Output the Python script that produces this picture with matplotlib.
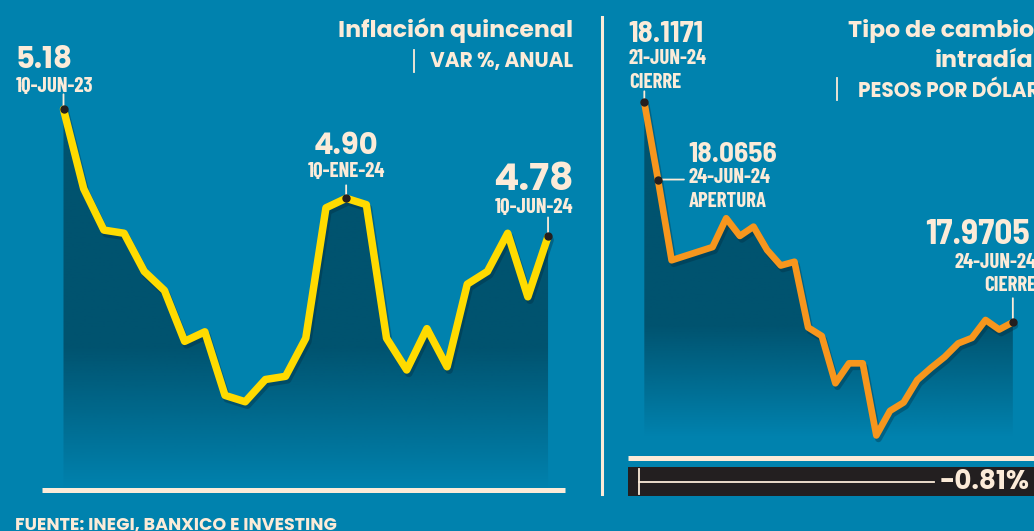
import numpy as np
import matplotlib.pyplot as plt
import matplotlib.patheffects as pe
from matplotlib.colors import to_rgb
from matplotlib.lines import Line2D

#%% Data

# Inflacion quincenal, var % anual
infl_dates = ['1Q-JUN-23', '2Q-JUN-23', '1Q-JUL-23', '2Q-JUL-23', '1Q-AGO-23',
              '2Q-AGO-23', '1Q-SEP-23', '2Q-SEP-23', '1Q-OCT-23', '2Q-OCT-23',
              '1Q-NOV-23', '2Q-NOV-23', '1Q-DIC-23', '2Q-DIC-23', '1Q-ENE-24',
              '2Q-ENE-24', '1Q-FEB-24', '2Q-FEB-24', '1Q-MAR-24', '2Q-MAR-24',
              '1Q-ABR-24', '2Q-ABR-24', '1Q-MAY-24', '2Q-MAY-24', '1Q-JUN-24']
infl_values = [5.18, 4.93, 4.80, 4.79, 4.67, 4.61, 4.45, 4.48, 4.28, 4.26,
               4.33, 4.34, 4.46, 4.87, 4.90, 4.88, 4.46, 4.36, 4.49, 4.37,
               4.63, 4.67, 4.79, 4.59, 4.78]

# Tipo de cambio intradia, pesos por dolar (sample number along the session)
fx_steps = [0, 1, 2, 5, 6, 7, 8, 9, 10, 11, 12, 13, 14, 15, 16, 17, 18, 19,
            20, 21, 22, 23, 24, 25, 26, 27]
fx_values = [18.1171, 18.0656, 18.0118, 18.0206, 18.0398, 18.0280, 18.0342,
             18.0186, 18.0083, 18.0108, 17.9670, 17.9613, 17.9298, 17.9431,
             17.9431, 17.8950, 17.9114, 17.9170, 17.9320, 17.9400, 17.9473,
             17.9564, 17.9600, 17.9720, 17.9656, 17.9705]
fx_first = ('21-JUN-24', 'CIERRE')
fx_open = ('24-JUN-24', 'APERTURA')
fx_last = ('24-JUN-24', 'CIERRE')

#%% Style

BG = '#0082ae'
DARK = '#00536f'
CREAM = '#fcebd8'
YELLOW = '#ffdb00'
ORANGE = '#f7961d'
INK = '#231f20'

BOLD = dict(family=['Poppins', 'Lato', 'DejaVu Sans'], weight='bold',
            color=CREAM)
NARROW = dict(family=['Barlow Condensed', 'DejaVu Sans'], weight='bold',
              color=CREAM)
SEMI = dict(family=['Barlow Semi Condensed', 'Barlow Condensed', 'DejaVu Sans'],
            weight='bold', color=CREAM)

W, H = 1034, 531
fig = plt.figure(figsize=(W / 100, H / 100), dpi=100, facecolor=BG)


def box(x0, y0, x1, y1):
    # pixel box, measured from the top-left corner -> figure fraction
    return [x0 / W, 1 - y1 / H, (x1 - x0) / W, (y1 - y0) / H]


def px(v):
    # pixels -> points (dpi 100)
    return v * 0.72


def shade(ax, x, y, full, zero):
    # dark area under the line, fading into the background near the bottom
    f = np.linspace(0, 1, 256)
    a = np.clip((f - zero) / (full - zero), 0, 1)
    img = np.zeros((256, 1, 4))
    img[..., :3] = to_rgb(DARK)
    img[..., 3] = a[:, None]
    poly = ax.fill_between(x, y, ax.get_ylim()[0], facecolor='none',
                           edgecolor='none')
    im = ax.imshow(img, extent=(0, 1, 0, 1), transform=ax.transAxes,
                   origin='lower', aspect='auto', zorder=1)
    im.set_clip_path(poly.get_paths()[0], transform=ax.transData)


def clean(ax):
    ax.set_facecolor('none')
    for s in ['top', 'left', 'right']:
        ax.spines[s].set_visible(False)
    ax.spines['bottom'].set_color(CREAM)
    ax.spines['bottom'].set_linewidth(3.6)
    ax.spines['bottom'].set_capstyle('butt')
    ax.set_xticks([])
    ax.set_yticks([])


def label(ax, xy, s, dx, dy, size, style, ha='left'):
    ax.annotate(s, xy, xytext=(px(dx), px(dy)), textcoords='offset points',
                ha=ha, va='baseline', fontsize=size, annotation_clip=False,
                **style)


def tick(ax, xy, start, end):
    ax.annotate('', xy, xytext=(px(end[0]), px(end[1])),
                textcoords='offset points', annotation_clip=False,
                arrowprops=dict(arrowstyle='-', color=CREAM, lw=1.3,
                                shrinkA=0, shrinkB=px(start)))


shadow = [pe.SimpleLineShadow(offset=(1.5, -2.5), shadow_color='#002a3c',
                              alpha=0.35), pe.Normal()]

#%% Inflacion quincenal

ax1 = fig.add_axes(box(42, 60, 565, 489.5))
clean(ax1)
ax1.set_xlim(-1.065, 24.84)
ax1.set_ylim(3.984, 5.335)
xi = np.arange(len(infl_values))
shade(ax1, xi, infl_values, 0.33, 0.0)
ax1.plot(xi, infl_values, color=YELLOW, lw=5.4, solid_joinstyle='round',
         solid_capstyle='round', zorder=3, path_effects=shadow)
ax1.set_xlim(-1.065, 24.84)
ax1.set_ylim(3.984, 5.335)

for i in [0, 14, 24]:
    ax1.plot(xi[i], infl_values[i], 'o', color=INK, ms=5, zorder=4)

p = (xi[0], infl_values[0])
tick(ax1, p, 3, (0, 15))
label(ax1, p, f'{infl_values[0]:.2f}', -48, 41, 21, BOLD)
label(ax1, p, infl_dates[0], -48, 17.5, 15, NARROW)

p = (xi[14], infl_values[14])
tick(ax1, p, 3, (0, 13))
label(ax1, p, f'{infl_values[14]:.2f}', 0, 44, 21, BOLD, ha='center')
label(ax1, p, infl_dates[14], 0, 21, 15, NARROW, ha='center')

p = (xi[24], infl_values[24])
tick(ax1, p, 3, (0, 19))
label(ax1, p, f'{infl_values[24]:.2f}', 25, 46.5, 27, BOLD, ha='right')
label(ax1, p, infl_dates[24], 25, 23.5, 15, NARROW, ha='right')

fig.text(573 / W, 1 - 36.7 / H, 'Inflación quincenal', ha='right',
         va='baseline', fontsize=17, **BOLD)
fig.text(573 / W, 1 - 66.7 / H, 'VAR %, ANUAL', ha='right', va='baseline',
         fontsize=14.5, **BOLD)
fig.add_artist(Line2D([414 / W, 414 / W], [1 - 50 / H, 1 - 72 / H],
                      color=CREAM, lw=1.3))

#%% Tipo de cambio intradia

ax2 = fig.add_axes(box(628, 60, 1040, 457.5))
clean(ax2)
ax2.set_xlim(-1.195, 28.99)
ax2.set_ylim(17.8803, 18.1453)
shade(ax2, fx_steps, fx_values, 0.33, 0.05)
ax2.plot(fx_steps, fx_values, color=ORANGE, lw=4.8, solid_joinstyle='round',
         solid_capstyle='round', zorder=3, path_effects=shadow)
ax2.set_xlim(-1.195, 28.99)
ax2.set_ylim(17.8803, 18.1453)

for i in [0, 1, -1]:
    ax2.plot(fx_steps[i], fx_values[i], 'o', color=INK, ms=5, zorder=4)

p = (fx_steps[0], fx_values[0])
tick(ax2, p, 3, (0, 11))
label(ax2, p, f'{fx_values[0]:.4f}', -15.5, 60, 22, SEMI)
label(ax2, p, fx_first[0], -15.5, 38, 15, NARROW)
label(ax2, p, fx_first[1], -15.5, 14, 15, NARROW)

p = (fx_steps[1], fx_values[1])
tick(ax2, p, 4, (26, 0))
label(ax2, p, f'{fx_values[1]:.4f}', 30.5, 17.5, 21, SEMI)
label(ax2, p, fx_open[0], 30.5, -3.5, 15, NARROW)
label(ax2, p, fx_open[1], 30.5, -27.5, 15, NARROW)

p = (fx_steps[-1], fx_values[-1])
tick(ax2, p, 3, (0, 24))
label(ax2, p, f'{fx_values[-1]:.4f}', -88, 78, 25.5, SEMI)
label(ax2, p, fx_last[0], 23.5, 54, 15, NARROW, ha='right')
label(ax2, p, fx_last[1], 23.5, 31, 15, NARROW, ha='right')

fig.text(1034 / W, 1 - 37 / H, 'Tipo de cambio', ha='right', va='baseline',
         fontsize=17, **BOLD)
fig.text(1034 / W, 1 - 67 / H, 'intradía', ha='right', va='baseline',
         fontsize=17, **BOLD)
fig.text(1040 / W, 1 - 97 / H, 'PESOS POR DÓLAR', ha='right', va='baseline',
         fontsize=14.5, **BOLD)
fig.add_artist(Line2D([837 / W, 837 / W], [1 - 78 / H, 1 - 100 / H],
                      color=CREAM, lw=1.3))

# change from previous close to today's close
change = (fx_values[-1] / fx_values[0] - 1) * 100
ax3 = fig.add_axes(box(628, 467, 1040, 496))
ax3.set_xlim(0, 1)
ax3.set_ylim(0, 1)
ax3.axis('off')
ax3.add_patch(plt.Rectangle((0, 0), 1, 1, color=INK))
ax3.plot([0.027, 0.027], [0.08, 0.92], color=CREAM, lw=1.3)
ax3.plot([0.027, 0.742], [0.5, 0.5], color=CREAM, lw=1.3)
ax3.text(0.974, 0.46, f'{change:.2f}%', ha='right', va='center', fontsize=19,
         **BOLD)

#%% Divider and source

fig.add_artist(Line2D([602 / W, 602 / W], [1 - 17 / H, 1 - 494 / H],
                      color=CREAM, lw=2.2))
fig.text(15 / W, 1 - 529.5 / H, 'FUENTE: INEGI, BANXICO E INVESTING',
         ha='left', va='baseline', fontsize=12.6, **BOLD)

fig.savefig('out.png', dpi=100, facecolor=BG)
